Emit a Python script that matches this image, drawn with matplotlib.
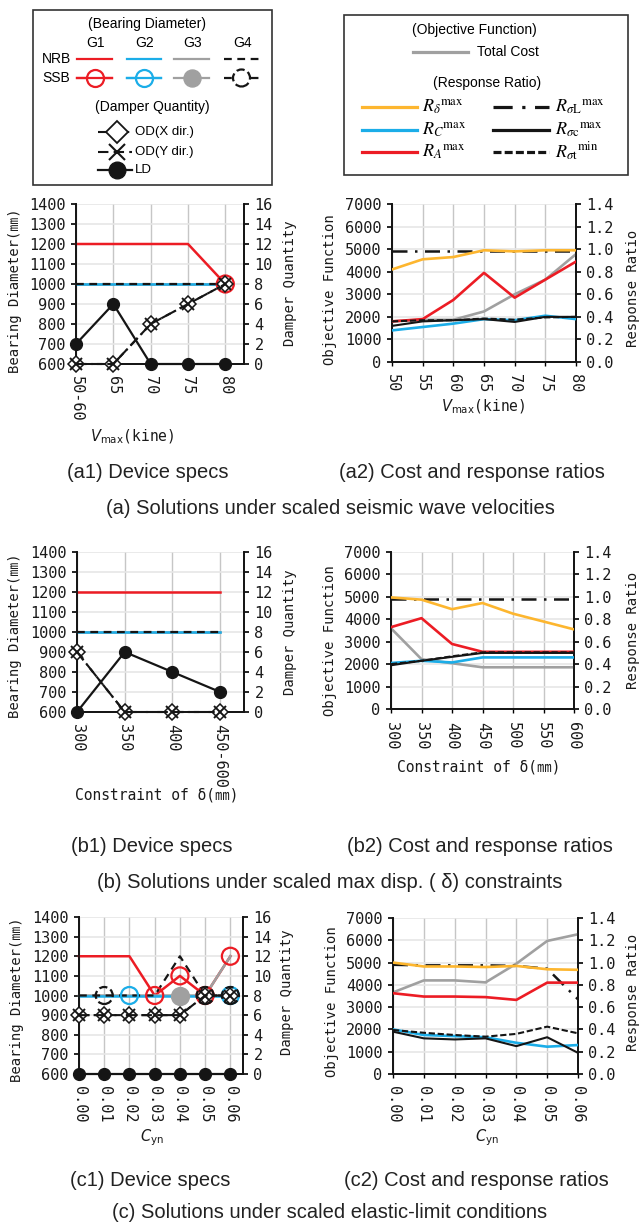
import numpy as np
import matplotlib
matplotlib.use("Agg")
import matplotlib.pyplot as plt
from matplotlib.patches import Rectangle

plt.rcParams['font.family'] = ['Liberation Sans', 'DejaVu Sans']
plt.rcParams['mathtext.fontset'] = 'dejavusans'

W, H = 641, 1228
MONO = ['DejaVu Sans Mono', 'Noto Sans CJK JP']
RED, BLUE, GREY, YELLOW, BLK = '#EC1C24', '#1BADE8', '#A0A0A0', '#FDB62F', '#151515'

# ---------------- datos ----------------
dia_ticks = [600, 700, 800, 900, 1000, 1100, 1200, 1300, 1400]
dmp_ticks = [0, 2, 4, 6, 8, 10, 12, 14, 16]
obj_ticks = [0, 1000, 2000, 3000, 4000, 5000, 6000, 7000]
rat_ticks = [0.0, 0.2, 0.4, 0.6, 0.8, 1.0, 1.2, 1.4]
rat_labels = ["0.0", "0.2", "0.4", "0.6", "0.8", "1.0", "1.2", "1.4"]

# (a) velocidad sismica
a1_cats = ["50-60", "65", "70", "75", "80"]
a1_g1 = [1200, 1200, 1200, 1200, 1000]
a1_g2 = [1000, 1000, 1000, 1000, 1000]
a1_g3 = [1000, 1000, 1000, 1000, 1000]
a1_g4 = [1000, 1000, 1000, 1000, 1000]
a1_ssb1 = [0, 0, 0, 0, 1]
a1_ssb2 = [0, 0, 0, 0, 0]
a1_ssb3 = [0, 0, 0, 0, 0]
a1_ssb4 = [0, 0, 0, 0, 0]
a1_odx = [0, 0, 4, 6, 8]
a1_ody = [0, 0, 4, 6, 8]
a1_ld = [2, 6, 0, 0, 0]

a2_cats = ["50", "55", "60", "65", "70", "75", "80"]
a2_cost = [1800, 1870, 1870, 2240, 3000, 3650, 4780]
a2_rd = [0.82, 0.91, 0.93, 0.99, 0.98, 0.99, 0.99]
a2_rc = [0.28, 0.31, 0.34, 0.38, 0.37, 0.41, 0.38]
a2_ra = [0.36, 0.38, 0.55, 0.79, 0.57, 0.73, 0.89]
a2_rsl = [0.98, 0.98, 0.98, 0.98, 0.98, 0.98, 0.98]
a2_rsc = [0.32, 0.36, 0.37, 0.38, 0.355, 0.40, 0.40]
a2_rst = [0.36, 0.37, 0.37, 0.385, 0.375, 0.395, 0.40]

# (b) restriccion de desplazamiento
b1_cats = ["300", "350", "400", "450-600"]
b1_g1 = [1200, 1200, 1200, 1200]
b1_g2 = [1000, 1000, 1000, 1000]
b1_g3 = [1000, 1000, 1000, 1000]
b1_g4 = [1000, 1000, 1000, 1000]
b1_ssb1 = [0, 0, 0, 0]
b1_ssb2 = [0, 0, 0, 0]
b1_ssb3 = [0, 0, 0, 0]
b1_ssb4 = [0, 0, 0, 0]
b1_odx = [6, 0, 0, 0]
b1_ody = [6, 0, 0, 0]
b1_ld = [0, 6, 4, 2]

b2_cats = ["300", "350", "400", "450", "500", "550", "600"]
b2_cost = [3600, 2220, 2040, 1860, 1860, 1860, 1860]
b2_rd = [0.995, 0.975, 0.89, 0.945, 0.85, 0.78, 0.71]
b2_rc = [0.41, 0.43, 0.415, 0.46, 0.46, 0.46, 0.46]
b2_ra = [0.73, 0.81, 0.58, 0.51, 0.51, 0.51, 0.51]
b2_rsl = [0.98, 0.98, 0.98, 0.98, 0.98, 0.98, 0.98]
b2_rsc = [0.39, 0.43, 0.465, 0.50, 0.50, 0.50, 0.50]
b2_rst = [0.40, 0.43, 0.47, 0.505, 0.505, 0.505, 0.505]

# (c) limite elastico
c1_cats = ["0.00", "0.01", "0.02", "0.03", "0.04", "0.05", "0.06"]
c1_g1 = [1200, 1200, 1200, 1000, 1100, 1000, 1200]
c1_g2 = [1000, 1000, 1000, 1000, 1000, 1000, 1000]
c1_g3 = [1000, 1000, 1000, 1000, 1000, 1000, 1200]
c1_g4 = [1000, 1000, 1000, 1000, 1200, 1000, 1000]
c1_ssb1 = [0, 0, 0, 1, 1, 1, 1]
c1_ssb2 = [0, 0, 1, 0, 0, 0, 1]
c1_ssb3 = [0, 0, 0, 0, 1, 0, 0]
c1_ssb4 = [0, 1, 0, 0, 0, 1, 1]
c1_odx = [6, 6, 6, 6, 6, 8, 8]
c1_ody = [6, 6, 6, 6, 6, 8, 8]
c1_ld = [0, 0, 0, 0, 0, 0, 0]

c2_cats = ["0.00", "0.01", "0.02", "0.03", "0.04", "0.05", "0.06"]
c2_cost = [3660, 4200, 4200, 4110, 4950, 5970, 6270]
c2_rd = [1.0, 0.965, 0.965, 0.96, 0.97, 0.94, 0.935]
c2_rc = [0.40, 0.35, 0.34, 0.33, 0.28, 0.245, 0.26]
c2_ra = [0.725, 0.695, 0.695, 0.69, 0.665, 0.82, 0.82]
c2_rsl = [0.98, 0.975, 0.975, 0.975, 0.97, 0.945, 0.67]
c2_rsc = [0.38, 0.32, 0.31, 0.32, 0.25, 0.33, 0.19]
c2_rst = [0.395, 0.37, 0.35, 0.335, 0.36, 0.425, 0.365]

# ---------------- figura ----------------
fig = plt.figure(figsize=(W / 100, H / 100), dpi=100, facecolor='white')

# capa en pixeles para leyendas y rotulos
lg = fig.add_axes([0, 0, 1, 1])
lg.set_xlim(0, W)
lg.set_ylim(H, 0)
lg.axis('off')


def px_axes(l, t, r, b):
    return fig.add_axes([l / W, 1 - b / H, (r - l) / W, (b - t) / H])


def finish(ax, ax2, cats, span, lticks, llabels, lylim, rticks, rlabels, rylim):
    ax.set_xlim(0, span)
    ax.set_xticks(np.arange(len(cats)))
    ax.set_xticklabels(cats, rotation=270, fontfamily=MONO, fontsize=11, color='#1a1a1a')
    ax.set_ylim(*lylim)
    ax.set_yticks(lticks)
    ax.set_yticklabels(llabels, fontfamily=MONO, fontsize=11, color='#1a1a1a')
    ax2.set_ylim(*rylim)
    ax2.set_yticks(rticks)
    ax2.set_yticklabels(rlabels, fontfamily=MONO, fontsize=11, color='#1a1a1a')
    ax.xaxis.grid(True, color='#C6C6C6', lw=1.0)
    ax.yaxis.grid(True, color='#E6E6E6', lw=1.2)
    ax.set_axisbelow(True)
    for a in (ax, ax2):
        a.spines['top'].set_visible(False)
        for s in ('left', 'right', 'bottom'):
            a.spines[s].set_linewidth(1.3)
            a.spines[s].set_color(BLK)
    ax.tick_params(axis='x', length=3, width=1, pad=6)
    ax.tick_params(axis='y', length=3.5, width=1.2, pad=4)
    ax2.tick_params(axis='y', length=3.5, width=1.2, pad=4)


def device_panel(rect, cats, span, g1, g2, g3, g4, s1, s2, s3, s4, odx, ody, ld):
    ax = px_axes(*rect)
    x = np.arange(len(cats))
    ax.plot(x, g1, color=RED, lw=1.8, zorder=3, clip_on=False)
    ax.plot(x, g3, color=GREY, lw=1.8, zorder=3, clip_on=False)
    ax.plot(x, g2, color=BLUE, lw=1.8, zorder=3, clip_on=False)
    ax.plot(x, g4, color=BLK, lw=1.6, dashes=(3.5, 2.5), zorder=3, clip_on=False)
    for vals, msk, kw in ((g1, s1, dict(facecolors='none', edgecolors=RED)),
                          (g2, s2, dict(facecolors='none', edgecolors=BLUE)),
                          (g3, s3, dict(facecolors=GREY, edgecolors=GREY)),
                          (g4, s4, dict(facecolors='none', edgecolors=BLK, linestyle='--'))):
        m = np.array(msk, bool)
        if m.any():
            ax.scatter(x[m], np.array(vals)[m], s=150, linewidths=1.6, zorder=4,
                       clip_on=False, **kw)
    ax2 = ax.twinx()
    ax2.plot(x, odx, color=BLK, lw=1.5, dashes=(5, 2, 1, 2), marker='D', ms=8,
             mfc='white', mec=BLK, mew=1.1, zorder=4, clip_on=False)
    ax2.plot(x, ody, color=BLK, lw=1.5, dashes=(5, 2.5), marker='x', ms=8,
             mec=BLK, mew=1.4, zorder=4, clip_on=False)
    ax2.plot(x, ld, color=BLK, lw=1.6, marker='o', ms=8.5, mfc=BLK, mec=BLK,
             zorder=5, clip_on=False)
    finish(ax, ax2, cats, span, dia_ticks, [str(v) for v in dia_ticks], (600, 1400),
           dmp_ticks, [str(v) for v in dmp_ticks], (0, 16))
    return ax


def cost_panel(rect, cats, cost, rd, rc, ra, rsl, rsc, rst):
    ax = px_axes(*rect)
    x = np.arange(len(cats))
    ax.plot(x, cost, color=GREY, lw=1.9, zorder=3)
    ax2 = ax.twinx()
    ax2.plot(x, rsl, color=BLK, lw=1.8, dashes=(6, 3, 1, 3), zorder=3)
    ax2.plot(x, rd, color=YELLOW, lw=1.9, zorder=3)
    ax2.plot(x, rc, color=BLUE, lw=1.9, zorder=3)
    ax2.plot(x, ra, color=RED, lw=1.9, zorder=3)
    ax2.plot(x, rsc, color=BLK, lw=1.5, zorder=4)
    ax2.plot(x, rst, color=BLK, lw=1.5, dashes=(3, 1.3), zorder=4)
    finish(ax, ax2, cats, len(cats) - 1, obj_ticks, [str(v) for v in obj_ticks], (0, 7000),
           rat_ticks, rat_labels, (0, 1.4))
    return ax


device_panel((76, 204, 244, 364), a1_cats, 4.5, a1_g1, a1_g2, a1_g3, a1_g4,
             a1_ssb1, a1_ssb2, a1_ssb3, a1_ssb4, a1_odx, a1_ody, a1_ld)
cost_panel((392, 204, 576, 362), a2_cats, a2_cost, a2_rd, a2_rc, a2_ra, a2_rsl, a2_rsc, a2_rst)
device_panel((77, 552, 244, 712), b1_cats, 3.5, b1_g1, b1_g2, b1_g3, b1_g4,
             b1_ssb1, b1_ssb2, b1_ssb3, b1_ssb4, b1_odx, b1_ody, b1_ld)
cost_panel((391, 552, 574, 709), b2_cats, b2_cost, b2_rd, b2_rc, b2_ra, b2_rsl, b2_rsc, b2_rst)
device_panel((79, 917, 243, 1074), c1_cats, 6.5, c1_g1, c1_g2, c1_g3, c1_g4,
             c1_ssb1, c1_ssb2, c1_ssb3, c1_ssb4, c1_odx, c1_ody, c1_ld)
cost_panel((393, 918, 578, 1074), c2_cats, c2_cost, c2_rd, c2_rc, c2_ra, c2_rsl, c2_rsc, c2_rst)

# ---------------- rotulos de ejes ----------------
vlab = r"$V_{\mathrm{max}}$(kine)"
dlab = "Constraint of δ(㎜)"
clab = r"$C_{\mathrm{yn}}$"
for (xx, yy, s) in ((132, 437, vlab), (483, 407, vlab), (157, 795, dlab),
                    (479, 767, dlab), (152, 1138, clab), (487, 1138, clab)):
    lg.text(xx, yy, s, ha='center', va='center', fontsize=10.5, fontfamily=MONO,
            color='#1a1a1a')

for (xx, yy, s) in ((15, 291, "Bearing Diameter(㎜)"), (290, 283, "Damper Quantity"),
                    (330, 290, "Objective Function"), (633, 288, "Response Ratio"),
                    (15, 636, "Bearing Diameter(㎜)"), (290, 632, "Damper Quantity"),
                    (330, 641, "Objective Function"), (633, 630, "Response Ratio"),
                    (17, 1000, "Bearing Diameter(㎜)"), (287, 992, "Damper Quantity"),
                    (332, 1002, "Objective Function"), (633, 992, "Response Ratio")):
    lg.text(xx, yy, s, ha='center', va='center', rotation=90, fontsize=10,
            fontfamily=MONO, color='#1a1a1a')

# ---------------- subtitulos ----------------
for (xx, yy, s) in ((148, 473, "(a1) Device specs"), (472, 473, "(a2) Cost and response ratios"),
                    (330, 508, "(a) Solutions under scaled seismic wave velocities"),
                    (152, 846, "(b1) Device specs"), (480, 846, "(b2) Cost and response ratios"),
                    (330, 882, "(b) Solutions under scaled max disp. ( δ) constraints"),
                    (150, 1181, "(c1) Device specs"), (476, 1181, "(c2) Cost and response ratios"),
                    (330, 1213, "(c) Solutions under scaled elastic-limit conditions")):
    lg.text(xx, yy, s, ha='center', va='center', fontsize=14.5, color='#222222')

# ---------------- leyenda izquierda ----------------
lg.add_patch(Rectangle((33, 10), 239, 175, fill=False, ec='#333333', lw=1.2))
lg.text(147, 24, "(Bearing Diameter)", ha='center', va='center', fontsize=10)
grp_x = [(77, 112), (127, 161), (174, 209), (224, 259)]
grp_c = [RED, BLUE, GREY, BLK]
for i, ((x0, x1), c) in enumerate(zip(grp_x, grp_c)):
    xm = (x0 + x1) / 2
    lg.text(xm + 1, 43, "G%d" % (i + 1), ha='center', va='center', fontsize=10)
    ls = dict(dashes=(3.5, 2.5)) if i == 3 else {}
    lg.plot([x0, x1], [59, 59], color=c, lw=1.6, **ls)
    lg.plot([x0, x1], [78, 78], color=c, lw=1.6, **ls)
    if i == 2:
        lg.scatter([xm], [78], s=150, facecolors=GREY, edgecolors=GREY, zorder=4)
    elif i == 3:
        lg.scatter([xm], [78], s=150, facecolors='white', edgecolors=BLK,
                   linewidths=1.6, linestyle='--', zorder=4)
    else:
        lg.scatter([xm], [78], s=150, facecolors='white', edgecolors=c,
                   linewidths=1.6, zorder=4)
lg.plot([77, 112], [78, 78], color=RED, lw=1.6, zorder=5)
lg.plot([127, 161], [78, 78], color=BLUE, lw=1.6, zorder=5)
lg.text(71, 59, "NRB", ha='right', va='center', fontsize=10)
lg.text(70, 78, "SSB", ha='right', va='center', fontsize=10)
lg.text(152, 107, "(Damper Quantity)", ha='center', va='center', fontsize=10)
lg.plot([98, 132], [132, 132], color=BLK, lw=1.5, dashes=(5, 2, 1, 2))
lg.plot([117], [132], marker='D', ms=11, mfc='white', mec=BLK, mew=1.3)
lg.plot([98, 132], [152, 152], color=BLK, lw=1.5, dashes=(5, 2.5))
lg.plot([117], [152], marker='x', ms=11, mec=BLK, mew=1.5)
lg.plot([98, 132], [170, 170], color=BLK, lw=1.6)
lg.plot([117], [170], marker='o', ms=12, mfc=BLK, mec=BLK)
lg.text(135, 132, "OD(X dir.)", ha='left', va='center', fontsize=9.5)
lg.text(135, 152, "OD(Y dir.)", ha='left', va='center', fontsize=9.5)
lg.text(135, 170, "LD", ha='left', va='center', fontsize=9.5)

# ---------------- leyenda derecha ----------------
lg.add_patch(Rectangle((344, 15), 284, 160, fill=False, ec='#333333', lw=1.2))
lg.text(474, 30, "(Objective Function)", ha='center', va='center', fontsize=10)
lg.plot([413, 468], [52, 52], color=GREY, lw=2.3)
lg.text(477, 52, "Total Cost", ha='left', va='center', fontsize=10)
lg.text(487, 83, "(Response Ratio)", ha='center', va='center', fontsize=10)
rows = [107, 130, 152]
left_items = [(YELLOW, r"${R_{\delta}}^{\mathrm{max}}$"),
              (BLUE, r"${R_{C}}^{\mathrm{max}}$"),
              (RED, r"${R_{A}}^{\mathrm{max}}$")]
right_items = [(dict(dashes=(6, 3, 1, 3)), r"${R_{\sigma\mathrm{L}}}^{\mathrm{max}}$"),
               ({}, r"${R_{\sigma\mathrm{c}}}^{\mathrm{max}}$"),
               (dict(dashes=(2.5, 1)), r"${R_{\sigma\mathrm{t}}}^{\mathrm{min}}$")]
for y, (c, s) in zip(rows, left_items):
    lg.plot([362, 417], [y, y], color=c, lw=2.3)
    lg.text(422, y, s, ha='left', va='center', fontsize=13, math_fontfamily='stix')
for y, (ls, s) in zip(rows, right_items):
    lg.plot([493, 549], [y, y], color=BLK, lw=2.3, **ls)
    lg.text(555, y, s, ha='left', va='center', fontsize=13, math_fontfamily='stix')

fig.savefig("out.png", dpi=100, facecolor='white')
